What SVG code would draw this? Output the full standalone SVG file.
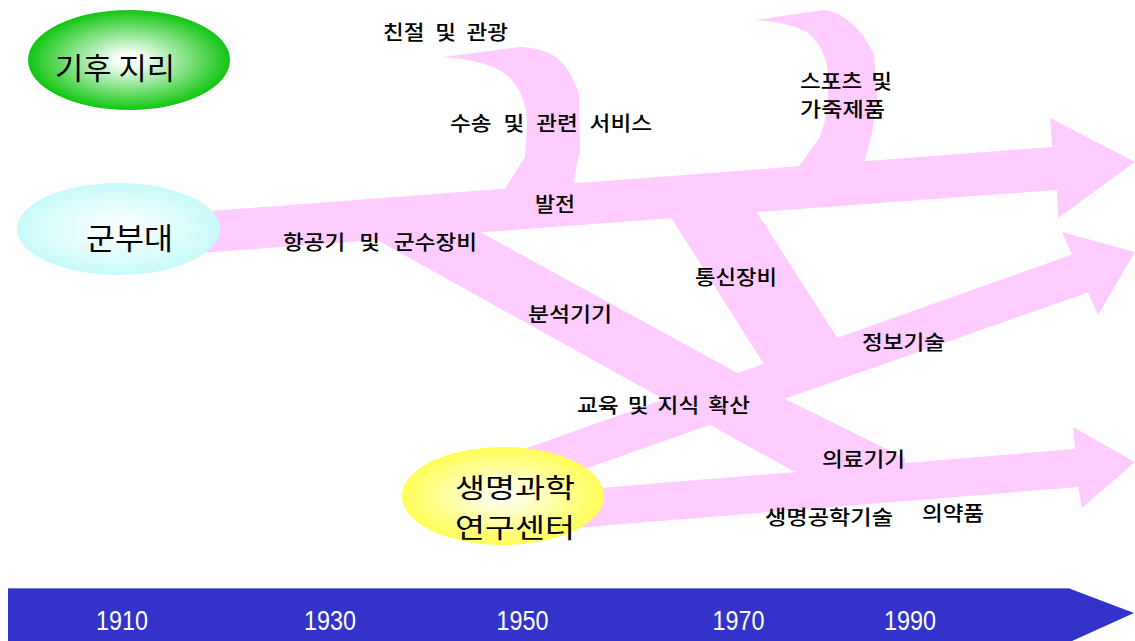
<svg xmlns="http://www.w3.org/2000/svg" width="1135" height="641" viewBox="0 0 1135 641">
<style>
.band{fill:#ffccff;stroke:none}
.lbl{font-family:"Noto Sans CJK KR","Noto Sans",sans-serif;font-size:20px;font-weight:500;fill:#000;white-space:pre}
.big{font-family:"Noto Sans CJK KR","Noto Sans",sans-serif;font-size:30px;fill:#000;text-anchor:middle}
.big2{font-size:27px}
.yr{font-family:"Liberation Sans",Arial,sans-serif;font-size:27px;fill:#fff;text-anchor:middle}
</style>
<defs>
<radialGradient id="gGreen" cx="0.5" cy="0.5" r="0.5">
<stop offset="0" stop-color="#ffffff"/>
<stop offset="0.15" stop-color="#f4fdf4"/>
<stop offset="1" stop-color="#11c611"/>
</radialGradient>
<radialGradient id="gCyan" cx="0.5" cy="0.5" r="0.5">
<stop offset="0" stop-color="#ffffff"/>
<stop offset="1" stop-color="#c8fafa"/>
</radialGradient>
<radialGradient id="gYellow" cx="0.5" cy="0.5" r="0.5">
<stop offset="0" stop-color="#ffffff"/>
<stop offset="1" stop-color="#ffff55"/>
</radialGradient>
</defs>
<rect width="1135" height="641" fill="#ffffff"/>

<g id="timeline">
<polygon points="8,588 1068,588 1134,613 1072,641 8,641" fill="#3333cc"/>
<line x1="8" y1="588.5" x2="1068" y2="588.5" stroke="#7a7ae0" stroke-width="1"/>
<text class="yr" x="122" y="630" textLength="52" lengthAdjust="spacingAndGlyphs">1910</text>
<text class="yr" x="330" y="630" textLength="52" lengthAdjust="spacingAndGlyphs">1930</text>
<text class="yr" x="522.5" y="630" textLength="52" lengthAdjust="spacingAndGlyphs">1950</text>
<text class="yr" x="738.5" y="630" textLength="52" lengthAdjust="spacingAndGlyphs">1970</text>
<text class="yr" x="910" y="630" textLength="52" lengthAdjust="spacingAndGlyphs">1990</text>
</g>

<g id="connectors">
<polygon class="band" points="150,215.6 1052,147 1050,118 1135,162 1058,218 1057,190 150,256.7"/>
<path class="band" d="M572,190 L580,150 L579,95 Q572,70 556,57 Q540,47 520,47 L443,57 Q488,60 508,76 Q527,94 527,125 L525,157 L503,192 Z"/>
<path class="band" d="M863,168 L872,133 L877,97 L874,55 Q862,28 840,15 Q831,10 823,10 L755,20 Q790,22 808,33 Q826,48 828,75 L828,110 L820,137 L795,172 Z"/>
<polygon class="band" points="360,230 470,226.5 783,398 905,458 905,478 794,471.6 710,425 377,240"/>
<polygon class="band" points="660,200 749,200 845,350 765,366"/>
<polygon class="band" points="500,457.6 1072,254.5 1062,232 1135,252 1098,315 1088,292.6 500,498.5"/>
<polygon class="band" points="560,491.3 1075,449 1073,427 1135,462 1082,508 1078,487 560,529.2"/>
</g>

<g id="labels">
<text class="lbl" x="383" y="40" style="word-spacing:5px" textLength="125" lengthAdjust="spacingAndGlyphs">친절 및 관광</text>
<text class="lbl" x="450" y="131" style="word-spacing:6px" textLength="202" lengthAdjust="spacingAndGlyphs">수송 및 관련 서비스</text>
<text class="lbl" x="535" y="212" textLength="40" lengthAdjust="spacingAndGlyphs">발전</text>
<text class="lbl" x="800" y="89" style="word-spacing:3.5px" textLength="92" lengthAdjust="spacingAndGlyphs">스포츠 및</text>
<text class="lbl" x="800" y="117" textLength="85" lengthAdjust="spacingAndGlyphs">가죽제품</text>
<text class="lbl" x="283" y="250" style="word-spacing:8px" textLength="194" lengthAdjust="spacingAndGlyphs">항공기 및 군수장비</text>
<text class="lbl" x="695" y="285" textLength="82" lengthAdjust="spacingAndGlyphs">통신장비</text>
<text class="lbl" x="528" y="322" textLength="84" lengthAdjust="spacingAndGlyphs">분석기기</text>
<text class="lbl" x="862" y="350" textLength="83" lengthAdjust="spacingAndGlyphs">정보기술</text>
<text class="lbl" x="577" y="413" style="word-spacing:3.5px" textLength="173" lengthAdjust="spacingAndGlyphs">교육 및 지식 확산</text>
<text class="lbl" x="822" y="467" textLength="83" lengthAdjust="spacingAndGlyphs">의료기기</text>
<text class="lbl" x="765" y="525" textLength="128" lengthAdjust="spacingAndGlyphs">생명공학기술</text>
<text class="lbl" x="922" y="521" textLength="62" lengthAdjust="spacingAndGlyphs">의약품</text>
</g>

<g id="node-climate">
<ellipse cx="129" cy="60" rx="101" ry="50" fill="url(#gGreen)"/>
<text class="big" x="115" y="79" textLength="120" lengthAdjust="spacingAndGlyphs">기후 지리</text>
</g>
<g id="node-military">
<ellipse cx="118.5" cy="229" rx="101.5" ry="46" fill="url(#gCyan)"/>
<text class="big" x="129.5" y="249" textLength="87" lengthAdjust="spacingAndGlyphs">군부대</text>
</g>
<g id="node-bio">
<ellipse cx="503" cy="496" rx="101" ry="49" fill="url(#gYellow)"/>
<text class="big big2" x="515" y="498" textLength="120" lengthAdjust="spacingAndGlyphs">생명과학</text>
<text class="big big2" x="515" y="538" textLength="120" lengthAdjust="spacingAndGlyphs">연구센터</text>
</g>
</svg>
